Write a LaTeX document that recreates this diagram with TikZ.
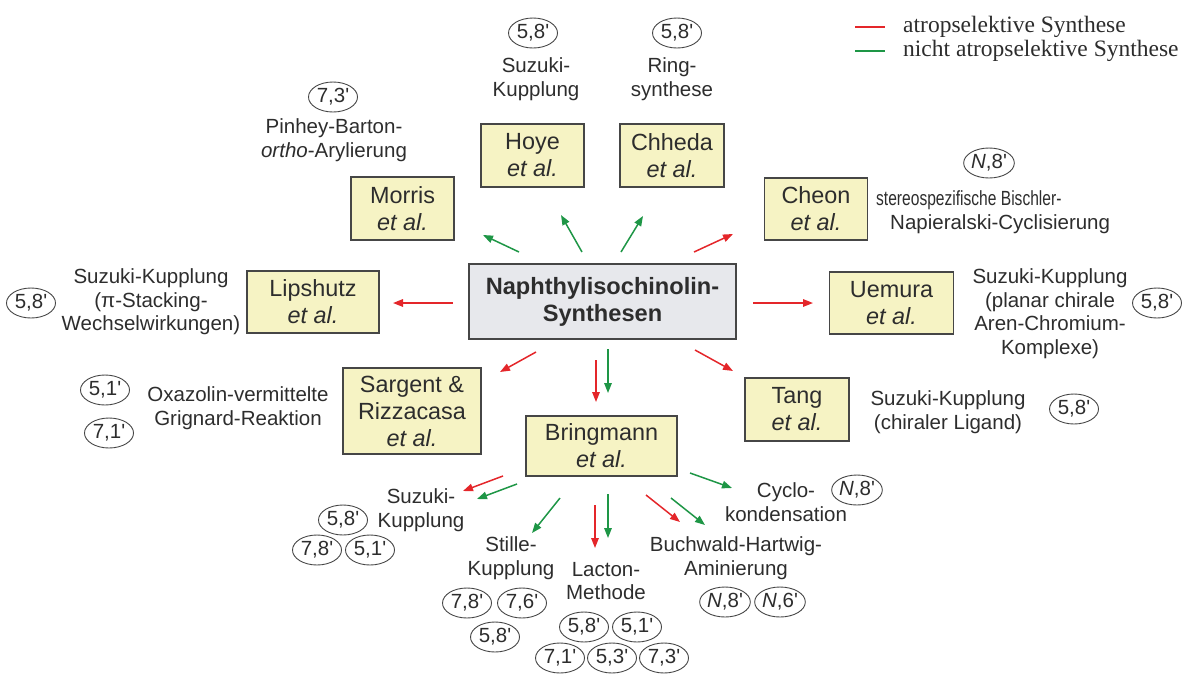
\documentclass[tikz,border=0pt]{standalone}
\usepackage{fontspec}
\usepackage{graphicx}
\setmainfont{Liberation Sans}
\newfontfamily\legfont{Liberation Serif}
\usetikzlibrary{shapes.geometric,arrows.meta}
\definecolor{boxyel}{RGB}{246,243,196}
\definecolor{boxgray}{RGB}{231,232,236}
\definecolor{edgegray}{RGB}{70,70,70}
\definecolor{txt}{RGB}{45,45,45}
\definecolor{ared}{RGB}{228,38,42}
\definecolor{agreen}{RGB}{30,150,70}
\newcommand{\qq}{\textquotesingle}
\newcommand{\etal}{\textit{et al.}}
\begin{document}
\begin{tikzpicture}[x=1pt,y=-1pt,
  every node/.style={text=txt},
  refbox/.style={draw=edgegray,line width=1.6pt,fill=boxyel,align=center,inner sep=0pt,font=\fontsize{23.4}{27}\selectfont},
  hubbox/.style={draw=edgegray,line width=1.6pt,fill=boxgray,align=center,inner sep=0pt,font=\fontsize{23.6}{27}\selectfont\bfseries},
  sidetxt/.style={align=center,inner sep=0pt,font=\fontsize{20.5}{23.5}\selectfont},
  posell/.style={draw=edgegray,line width=0.9pt,ellipse,minimum width=49pt,minimum height=30pt,inner sep=0pt,font=\fontsize{20.5}{23}\selectfont},
  rarr/.style={draw=ared,line width=1.5pt,-{Triangle[length=10pt,width=7.5pt]}},
  garr/.style={draw=agreen,line width=1.5pt,-{Triangle[length=10pt,width=7.5pt]}},
  legtxt/.style={anchor=west,inner sep=0pt,font=\legfont\fontsize{23.5}{24}\selectfont}
]
\useasboundingbox (0,0) rectangle (1184,673);

% boxes
\node[hubbox,minimum width=267pt,minimum height=75pt] (hub) at (602.5,301.5) {Naphthylisochinolin-\\Synthesen};
\node[refbox,minimum width=103pt,minimum height=63pt] (morris) at (402.5,208.5) {Morris\\\etal};
\node[refbox,minimum width=103pt,minimum height=63pt] (hoye) at (532.5,155.5) {Hoye\\\etal};
\node[refbox,minimum width=104pt,minimum height=63pt] (chheda) at (672,155.5) {Chheda\\\etal};
\node[refbox,minimum width=103pt,minimum height=62pt] (cheon) at (816,209) {Cheon\\\etal};
\node[refbox,minimum width=132pt,minimum height=62pt] (lipshutz) at (313,302) {Lipshutz\\\etal};
\node[refbox,minimum width=124pt,minimum height=62pt] (uemura) at (891.5,303) {Uemura\\\etal};
\node[refbox,minimum width=138pt,minimum height=86pt] (sargent) at (412,411) {Sargent \&\\Rizzacasa\\\etal};
\node[refbox,minimum width=104pt,minimum height=63pt] (tang) at (797,409.5) {Tang\\\etal};
\node[refbox,minimum width=151pt,minimum height=60pt] (bringmann) at (601.5,446) {Bringmann\\\etal};

% top labels
\node[posell] (e73a) at (333,97) {7,3\qq};
\node[sidetxt] (tpinhey) at (334,140) {Pinhey-Barton-\\\textit{ortho}-Arylierung};
\node[posell] (e58a) at (533,33) {5,8\qq};
\node[sidetxt] (tsuz1) at (536,79) {Suzuki-\\Kupplung};
\node[posell] (e58b) at (677,33) {5,8\qq};
\node[sidetxt] (tring) at (672,79) {Ring-\\synthese};
\node[posell] (en8a) at (989,163) {\textit{N},8\qq};
\node[sidetxt,align=left,anchor=west] (tbisch) at (876,212) {\scalebox{0.76}[1]{stereospezifische Bischler-}\\\hspace*{14pt}Napieralski-Cyclisierung};

% left labels
\node[posell] (e58c) at (31,303) {5,8\qq};
\node[sidetxt] (tlip) at (151,302) {Suzuki-Kupplung\\(π-Stacking-\\Wechselwirkungen)};
\node[posell] (e51a) at (105,390) {5,1\qq};
\node[posell] (e71a) at (109,433) {7,1\qq};
\node[sidetxt] (toxa) at (238,408) {Oxazolin-vermittelte\\Grignard-Reaktion};

% right labels
\node[sidetxt] (tuem) at (1050,313.5) {Suzuki-Kupplung\\(planar chirale\\Aren-Chromium-\\Komplexe)};
\node[posell] (e58d) at (1157,303) {5,8\qq};
\node[sidetxt] (ttang) at (948,412) {Suzuki-Kupplung\\(chiraler Ligand)};
\node[posell] (e58e) at (1074,409) {5,8\qq};

% bottom labels
\node[sidetxt] (tsuz2) at (421,510) {Suzuki-\\Kupplung};
\node[posell] (e58f) at (343,520) {5,8\qq};
\node[posell] (e78a) at (317,550) {7,8\qq};
\node[posell] (e51b) at (370,550) {5,1\qq};
\node[sidetxt] (tstille) at (511,558) {Stille-\\Kupplung};
\node[posell] (e78b) at (467,603) {7,8\qq};
\node[posell] (e76) at (522,603) {7,6\qq};
\node[posell] (e58g) at (495,637) {5,8\qq};
\node[sidetxt] (tlacton) at (606,581) {Lacton-\\Methode};
\node[posell] (e58h) at (584,627) {5,8\qq};
\node[posell] (e51c) at (637,627) {5,1\qq};
\node[posell] (e71b) at (560,658) {7,1\qq};
\node[posell] (e53) at (612,658) {5,3\qq};
\node[posell] (e73b) at (664,658) {7,3\qq};
\node[sidetxt] (tbuch) at (736,558) {Buchwald-Hartwig-\\Aminierung};
\node[posell] (en8b) at (725,602) {\textit{N},8\qq};
\node[posell] (en6) at (780,602) {\textit{N},6\qq};
\node[sidetxt] (tcyclo) at (786,502) {Cyclo-\\kondensation};
\node[posell] (en8c) at (857,490) {\textit{N},8\qq};

% legend
\coordinate (lr1) at (855,27); \coordinate (lr2) at (885,27);
\coordinate (lg1) at (855,51); \coordinate (lg2) at (885,51);
\draw[ared,line width=1.6pt] (lr1) -- (lr2);
\draw[agreen,line width=1.6pt] (lg1) -- (lg2);
\node[legtxt] (leg1) at (903,27) {atropselektive Synthese};
\node[legtxt] (leg2) at (903,51) {nicht atropselektive Synthese};

% arrow end points
\coordinate (g1s) at (519,252); \coordinate (g1e) at (483,235);
\coordinate (g2s) at (582,252); \coordinate (g2e) at (561,215);
\coordinate (g3s) at (621,252); \coordinate (g3e) at (643,216);
\coordinate (g4s) at (608,349); \coordinate (g4e) at (608,393);
\coordinate (g5s) at (517,484); \coordinate (g5e) at (477,499);
\coordinate (g6s) at (560,498); \coordinate (g6e) at (532,533);
\coordinate (g7s) at (608,494); \coordinate (g7e) at (608,538);
\coordinate (g8s) at (671,498); \coordinate (g8e) at (705,525);
\coordinate (g9s) at (690,473); \coordinate (g9e) at (732,488);
\coordinate (r1s) at (694,252); \coordinate (r1e) at (733,234);
\coordinate (r2s) at (453,303); \coordinate (r2e) at (393,303);
\coordinate (r3s) at (753,303); \coordinate (r3e) at (813,303);
\coordinate (r4s) at (536,352); \coordinate (r4e) at (500,372);
\coordinate (r5s) at (695,350); \coordinate (r5e) at (733,371);
\coordinate (r6s) at (596,360); \coordinate (r6e) at (596,402);
\coordinate (r7s) at (503,476); \coordinate (r7e) at (463,491);
\coordinate (r8s) at (595,505); \coordinate (r8e) at (595,548);
\coordinate (r9s) at (646,495); \coordinate (r9e) at (680,522);

\foreach \a in {g1,g2,g3,g4,g5,g6,g7,g8,g9}{\draw[garr] (\a s) -- (\a e);}
\foreach \a in {r1,r2,r3,r4,r5,r6,r7,r8,r9}{\draw[rarr] (\a s) -- (\a e);}
\end{tikzpicture}
\end{document}
